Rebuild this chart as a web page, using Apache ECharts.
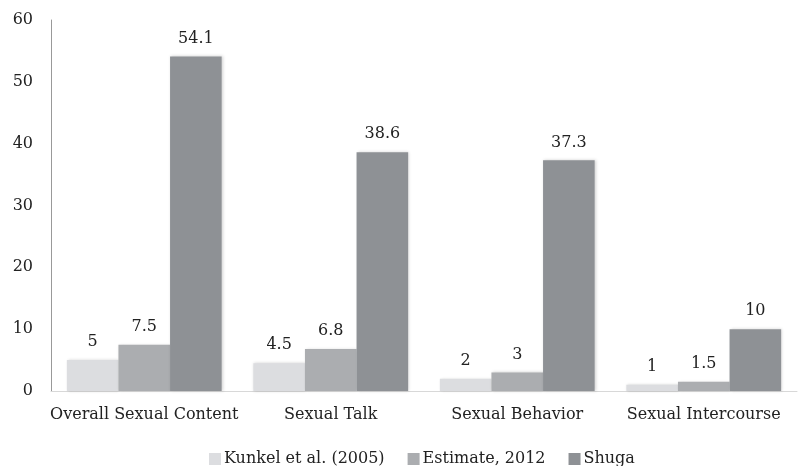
<!DOCTYPE html>
<html><head><meta charset="utf-8">
<script src="https://cdn.jsdelivr.net/npm/echarts@6/dist/echarts.min.js"></script>
<style>html,body{margin:0;padding:0;background:#fff}#c{width:799px;height:466px}</style>
</head><body><div id="c"></div>
<script>
var categories = ["Overall Sexual Content", "Sexual Talk", "Sexual Behavior", "Sexual Intercourse"];
var kunkel = [5, 4.5, 2, 1];
var estimate = [7.5, 6.8, 3, 1.5];
var shuga = [54.1, 38.6, 37.3, 10];
var seriesNames = ["Kunkel et al. (2005)", "Estimate, 2012", "Shuga"];
var yTicks = {min: 0, max: 60, interval: 10};

var font = "DejaVu Serif";
var colors = ["#dcdde0", "#abadb0", "#8e9195"];
function mk(name, data, color) {
  return {
    name: name, type: "bar", data: data, barGap: "0%", barCategoryGap: "17%",
    itemStyle: {color: color, shadowColor: "rgba(0,0,0,0.18)", shadowBlur: 3, shadowOffsetX: 1, shadowOffsetY: 0},
    label: {show: true, position: "top", distance: 10, color: "#222", fontFamily: font, fontSize: 16}
  };
}
var chart = echarts.init(document.getElementById("c"));
chart.setOption({
  animation: false,
  grid: {left: 51, right: 2, top: 20, bottom: 75},
  legend: {
    bottom: -6, left: 204, itemWidth: 12, itemHeight: 12, itemGap: 23,
    icon: "rect",
    textStyle: {fontFamily: font, fontSize: 16, color: "#222", padding: [0, 0, 0, -2]},
    data: seriesNames
  },
  xAxis: {
    type: "category", data: categories,
    axisLine: {lineStyle: {color: "#d8d8d8", width: 1}},
    axisTick: {show: false},
    axisLabel: {fontFamily: font, fontSize: 16, color: "#222", margin: 16, interval: 0}
  },
  yAxis: {
    type: "value", min: yTicks.min, max: yTicks.max, interval: yTicks.interval,
    axisLine: {show: true, lineStyle: {color: "#999", width: 1}},
    axisTick: {show: false},
    splitLine: {show: false},
    axisLabel: {fontFamily: font, fontSize: 16, color: "#222", margin: 18}
  },
  series: [mk(seriesNames[0], kunkel, colors[0]), mk(seriesNames[1], estimate, colors[1]), mk(seriesNames[2], shuga, colors[2])]
});
</script></body></html>
